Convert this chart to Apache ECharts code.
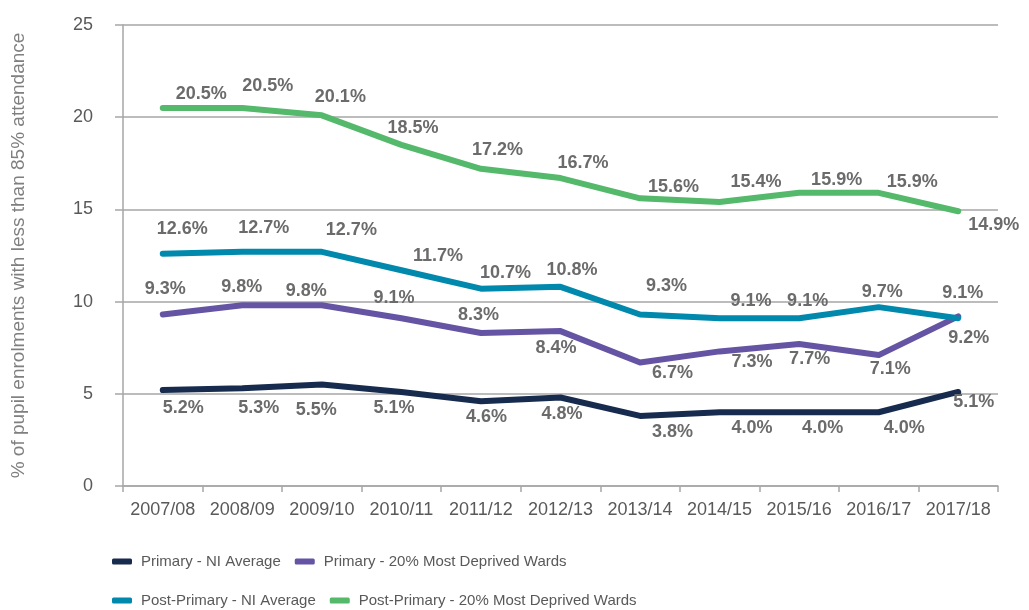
<!DOCTYPE html>
<html>
<head>
<meta charset="utf-8">
<script src="https://cdn.jsdelivr.net/npm/echarts@6/dist/echarts.min.js"></script>
<style>html,body{margin:0;padding:0;background:#fff}#c{width:1029px;height:610px}</style>
</head>
<body>
<div id="c"></div>
<script>
var categories = ['2007/08','2008/09','2009/10','2010/11','2011/12','2012/13','2013/14','2014/15','2015/16','2016/17','2017/18'];
var yTicks = [0, 5, 10, 15, 20, 25];
var seriesNames = ['Primary - NI Average','Primary - 20% Most Deprived Wards','Post-Primary - NI Average','Post-Primary - 20% Most Deprived Wards'];
var primaryNI = [5.2, 5.3, 5.5, 5.1, 4.6, 4.8, 3.8, 4.0, 4.0, 4.0, 5.1];
var primaryDeprived = [9.3, 9.8, 9.8, 9.1, 8.3, 8.4, 6.7, 7.3, 7.7, 7.1, 9.2];
var postPrimaryNI = [12.6, 12.7, 12.7, 11.7, 10.7, 10.8, 9.3, 9.1, 9.1, 9.7, 9.1];
var postPrimaryDeprived = [20.5, 20.5, 20.1, 18.5, 17.2, 16.7, 15.6, 15.4, 15.9, 15.9, 14.9];

// label placement relative to each point (style only)
var offPrimaryNI = [[21,18],[17,20],[-5,26],[-7,17],[6,16],[2,17],[33,17],[33,16],[24,16],[26,16],[16,11]];
var offPrimaryDep = [[3,-25],[0,-18],[-15,-14],[-7,-20],[-2,-17],[-4,17],[33,11],[33,11],[11,16],[12,14],[11,22]];
var offPostNI = [[20,-24],[22,-23],[30,-21],[37,-14],[25,-15],[12,-16],[27,-28],[32,-17],[9,-17],[4,-15],[5,-25]];
var offPostDep = [[39,-13],[26,-21],[19,-18],[12,-16],[17,-18],[23,-15],[34,-11],[37,-19],[38,-12],[34,-10],[36,14]];

var colors = ['#172b4f', '#6554a3', '#0089ad', '#54b96b'];
var font = 'Liberation Sans, Arial, sans-serif';

function mk(name, vals, offs, color) {
  return {
    name: name, type: 'line', data: vals.map(function (v, i) {
      return { value: v, label: { position: [offs[i][0], offs[i][1]] } };
    }),
    symbol: 'circle', symbolSize: 1, showSymbol: true,
    lineStyle: { width: 6, color: color, cap: 'round', join: 'round' },
    itemStyle: { color: color },
    label: {
      show: true, align: 'center', verticalAlign: 'middle',
      fontFamily: font, fontWeight: 'bold', fontSize: 18, color: '#6b6b6b',
      formatter: function (p) { return p.value.toFixed(1) + '%'; }
    },
    labelLayout: { hideOverlap: false },
    emphasis: { disabled: true },
    animation: false, z: 3
  };
}

var chart = echarts.init(document.getElementById('c'), null, { renderer: 'canvas' });
var legendCommon = {
  icon: 'roundRect', itemWidth: 20, itemHeight: 6, itemGap: 14, left: 112,
  textStyle: { fontFamily: font, fontSize: 15, color: '#595959', padding: [0, 0, 0, 4] },
  selectedMode: false, padding: 0
};
chart.setOption({
  animation: false,
  color: colors,
  grid: { left: 123, right: 31, top: 25, bottom: 124, containLabel: false },
  legend: [
    Object.assign({}, legendCommon, { data: [seriesNames[0], seriesNames[1]], top: 554 }),
    Object.assign({}, legendCommon, { data: [seriesNames[2], seriesNames[3]], top: 593 })
  ],
  xAxis: {
    type: 'category', data: categories, boundaryGap: true,
    axisLine: { lineStyle: { color: '#a6a6a6', width: 1.5 } },
    axisTick: { show: true, length: 6, interval: 0, alignWithLabel: false, lineStyle: { color: '#a6a6a6', width: 1.5 } },
    axisLabel: { interval: 0, fontFamily: font, fontSize: 18, color: '#595959', margin: 15 }
  },
  yAxis: {
    type: 'value', min: yTicks[0], max: yTicks[yTicks.length - 1], interval: 5,
    name: '% of pupil enrolments with less than 85% attendance',
    nameLocation: 'middle', nameGap: 95, nameRotate: 90,
    nameTextStyle: { fontFamily: font, fontSize: 19, color: '#7f7f7f' },
    axisLine: { show: true, lineStyle: { color: '#a6a6a6', width: 1.5 } },
    axisTick: { show: true, length: 8, lineStyle: { color: '#a6a6a6', width: 1.5 } },
    axisLabel: { fontFamily: font, fontSize: 18, color: '#595959', margin: 30 },
    splitLine: { show: true, lineStyle: { color: '#a6a6a6', width: 1.5 } }
  },
  series: [
    mk(seriesNames[0], primaryNI, offPrimaryNI, colors[0]),
    mk(seriesNames[1], primaryDeprived, offPrimaryDep, colors[1]),
    mk(seriesNames[2], postPrimaryNI, offPostNI, colors[2]),
    mk(seriesNames[3], postPrimaryDeprived, offPostDep, colors[3])
  ]
});
</script>
</body>
</html>
